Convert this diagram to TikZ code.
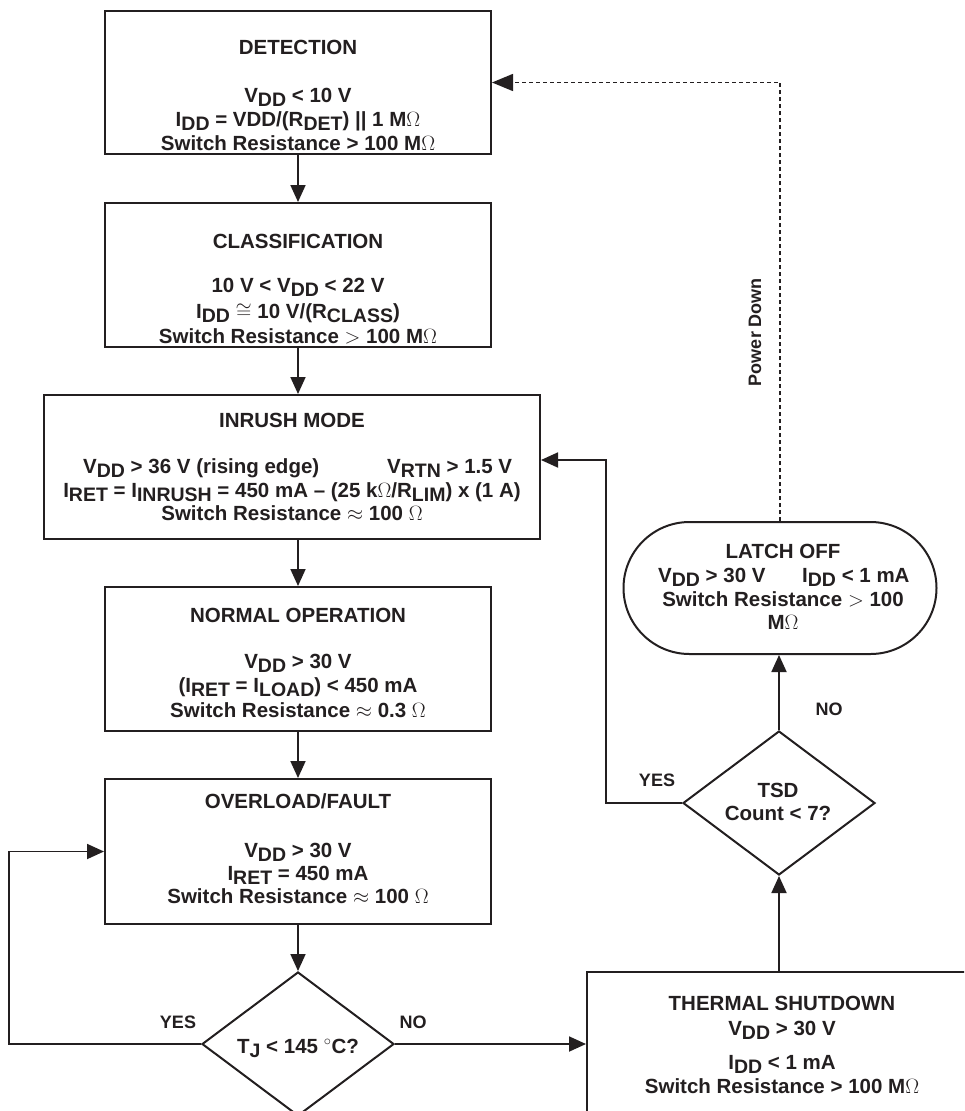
\documentclass[tikz,border=0pt]{standalone}
\usepackage{fontspec}
\setmainfont{Liberation Sans}
\usetikzlibrary{arrows.meta,shapes.geometric}
\definecolor{ink}{RGB}{35,31,32}
\newcommand{\sbx}[1]{\raisebox{-4.5pt}[0pt][0pt]{\fontsize{19.5}{20}\selectfont #1}}
\begin{document}
\begin{tikzpicture}[x=1pt,y=-1pt,
  box/.style={draw=ink, line width=2pt, rectangle, inner sep=0pt},
  dia/.style={draw=ink, line width=2pt, diamond, inner sep=0pt, minimum width=192pt, minimum height=144pt},
  txt/.style={anchor=base, inner sep=0pt, text=ink, font=\bfseries\fontsize{20.5}{24}\selectfont},
  txw/.style={txt, anchor=base west},
  lbl/.style={anchor=base, inner sep=0pt, text=ink, font=\bfseries\fontsize{18}{20}\selectfont},
  conn/.style={draw=ink, line width=1.8pt, -{Triangle[length=17pt,width=15pt]}},
  dconn/.style={draw=ink, line width=1.5pt, dash pattern=on 4pt off 3pt, -{Triangle[length=21pt,width=17pt]}}
]
\useasboundingbox (0,0) rectangle (964,1111);
\clip (0,0) rectangle (964,1111);
\fill[white] (0,0) rectangle (964,1111);

% boxes
\node[box, minimum width=386pt, minimum height=143pt] (det) at (298,82.5) {};
\node[box, minimum width=386pt, minimum height=144pt] (cls) at (298,275) {};
\node[box, minimum width=496pt, minimum height=144pt] (inr) at (292,467) {};
\node[box, minimum width=386pt, minimum height=144pt] (nor) at (298,659) {};
\node[box, minimum width=386pt, minimum height=145pt] (ovl) at (298,851.5) {};
\node[box, minimum width=403pt, minimum height=168pt] (tsh) at (788.5,1056) {};
\node[draw=ink, line width=2pt, rounded corners=66pt, inner sep=0pt, minimum width=313pt, minimum height=132pt] (lat) at (780,588) {};
\node[dia] (tj) at (298,1044) {};
\node[dia] (tsd) at (779,803) {};

% texts: detection
\node[txt] (d0) at (298,54) {DETECTION};
\node[txt] (d1) at (298,102) {V\sbx{DD} < 10 V};
\node[txt] (d2) at (298,126) {I\sbx{DD} = VDD/(R\sbx{DET}) || 1 M$\Omega$};
\node[txt] (d3) at (298,150) {Switch Resistance > 100 M$\Omega$};
% classification
\node[txt] (c0) at (298,248) {CLASSIFICATION};
\node[txt] (c1) at (298,292) {10 V < V\sbx{DD} < 22 V};
\node[txt] (c2) at (298,318) {I\sbx{DD} $\cong$ 10 V/(R\sbx{CLASS})};
\node[txt] (c3) at (298,343) {Switch Resistance $>$ 100 M$\Omega$};
% inrush
\node[txt] (i0) at (292,427) {INRUSH MODE};
\node[txw] (i1) at (83,473) {V\sbx{DD} > 36 V (rising edge)};
\node[txw] (i1b) at (387,473) {V\sbx{RTN} > 1.5 V};
\node[txt] (i2) at (292,497) {I\sbx{RET} = I\sbx{INRUSH} = 450 mA – (25 k$\Omega$/R\sbx{LIM}) x (1 A)};
\node[txt] (i3) at (292,520) {Switch Resistance $\approx$ 100 $\Omega$};
% normal
\node[txt] (n0) at (298,622) {NORMAL OPERATION};
\node[txt] (n1) at (298,668) {V\sbx{DD} > 30 V};
\node[txt] (n2) at (298,692) {(I\sbx{RET} = I\sbx{LOAD}) < 450 mA};
\node[txt] (n3) at (298,717) {Switch Resistance $\approx$ 0.3 $\Omega$};
% overload
\node[txt] (o0) at (298,808) {OVERLOAD/FAULT};
\node[txt] (o1) at (298,857) {V\sbx{DD} > 30 V};
\node[txt] (o2) at (298,880) {I\sbx{RET} = 450 mA};
\node[txt] (o3) at (298,903) {Switch Resistance $\approx$ 100 $\Omega$};
% thermal
\node[txt] (t0) at (782,1010) {THERMAL SHUTDOWN};
\node[txt] (t1) at (782,1035) {V\sbx{DD} > 30 V};
\node[txt] (t2) at (782,1069) {I\sbx{DD} < 1 mA};
\node[txt] (t3) at (782,1093) {Switch Resistance > 100 M$\Omega$};
% latch
\node[txt] (l0) at (783,558) {LATCH OFF};
\node[txw] (l1) at (658,582) {V\sbx{DD} > 30 V};
\node[txw] (l1b) at (802,582) {I\sbx{DD} < 1 mA};
\node[txt] (l2) at (783,606) {Switch Resistance $>$ 100};
\node[txt] (l3) at (783,629) {M$\Omega$};
% diamonds text
\node[txt] (s0) at (778,797) {TSD};
\node[txt] (s1) at (778,820) {Count < 7?};
\node[txt] (j0) at (298,1053) {T\sbx{J} < 145 $^\circ$C?};

% labels
\node[lbl] (yes1) at (657,786) {YES};
\node[lbl] (no1) at (829,715) {NO};
\node[lbl] (yes2) at (178,1028) {YES};
\node[lbl] (no2) at (413,1028) {NO};
\node[lbl, anchor=center, rotate=90] (pdl) at (755,332) {Power Down};

% connectors
\coordinate (lp) at (9,851.5);
\coordinate (yc) at (606,460);
\draw[conn] (det.south) -- (cls.north);
\draw[conn] (cls.south) -- (cls.south |- inr.north);
\draw[conn] (nor.north |- inr.south) -- (nor.north);
\draw[conn] (nor.south) -- (ovl.north);
\draw[conn] (ovl.south) -- (tj.north);
\draw[conn] (tj.east) -- (tj.east -| tsh.west);
\draw[conn] (tj.west) -| (lp) -- (ovl.west);
\draw[conn] (tsd.south |- tsh.north) -- (tsd.south);
\draw[conn] (tsd.north) -- (tsd.north |- lat.south);
\draw[conn] (tsd.west) -| (yc) -- (yc -| inr.east);
\draw[dconn] (lat.north) |- (det.east);
\end{tikzpicture}
\end{document}
